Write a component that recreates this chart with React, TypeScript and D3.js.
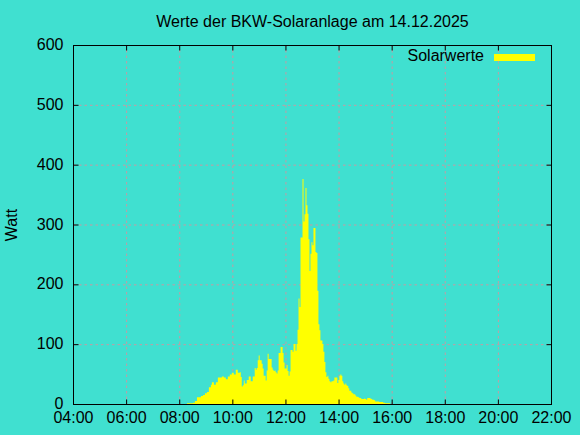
import React from 'react';
import * as d3 from 'd3';

const titleText = 'Werte der BKW-Solaranlage am 14.12.2025';
const yAxisLabel = 'Watt';
const legendLabel = 'Solarwerte';
const xTickHours = [4, 6, 8, 10, 12, 14, 16, 18, 20, 22];
const yTicks = [0, 100, 200, 300, 400, 500, 600];
const startTime = '08:16:25';
const stepSeconds = 135;
const solarValues = [
  2, 2, 2, 2, 2, 2, 3, 3, 6, 6, 12, 12, 12, 12, 14, 14, 16, 16, 19, 19,
  21, 21, 29, 29, 33, 37, 37, 33, 33, 37, 37, 45, 45, 45, 45, 47, 47, 45, 45, 42,
  42, 47, 47, 50, 50, 53, 53, 50, 50, 58, 58, 53, 53, 54, 46, 30, 32, 40, 35, 35,
  41, 41, 47, 47, 39, 39, 47, 47, 61, 58, 61, 74, 82, 74, 74, 68, 60, 48, 48, 40,
  57, 85, 76, 76, 76, 62, 58, 56, 57, 54, 52, 57, 86, 86, 96, 96, 86, 70, 60, 60,
  66, 56, 48, 55, 91, 91, 88, 101, 101, 90, 101, 125, 177, 163, 279, 279, 377, 306, 318, 362,
  333, 319, 276, 223, 252, 271, 266, 295, 295, 255, 253, 190, 134, 124, 107, 107, 101, 88, 71, 54,
  46, 48, 43, 39, 37, 39, 39, 40, 45, 45, 45, 36, 41, 48, 50, 48, 39, 35, 33, 35,
  32, 31, 27, 23, 23, 20, 19, 17, 17, 15, 13, 13, 12, 11, 11, 9, 9, 9, 10, 9,
  8, 11, 11, 11, 10, 9, 8, 8, 7, 5, 5, 5, 5, 4, 4, 4, 4, 3, 3, 2,
  2, 2, 2, 2,
];

const W = 580;
const H = 435;
const FONT = '"Liberation Sans", Arial, sans-serif';
const BG = '#40e0d0';
const GRID = '#c39ca3';

function toHours(s: string): number {
  const [h, m, sec] = s.split(':').map(Number);
  return h + m / 60 + (sec || 0) / 3600;
}

export default function App() {
  const x = d3.scaleLinear().domain([4, 22]).range([73.5, 551.5]);
  const y = d3.scaleLinear().domain([0, 600]).range([404.5, 45.5]);
  const t0 = toHours(startTime);
  const pts = solarValues.map((v, i) => ({ t: t0 + (i * stepSeconds) / 3600, v }));
  pts.push({ t: t0 + (solarValues.length * stepSeconds) / 3600, v: solarValues[solarValues.length - 1] });
  const area = d3
    .area<{ t: number; v: number }>()
    .x((d) => x(d.t))
    .y0(y(0))
    .y1((d) => y(d.v))
    .curve(d3.curveStepAfter);

  const [x0, x1] = x.range();
  const [yb, yt] = y.range();
  const tick = 5;
  const fmt = (h: number) => `${String(h).padStart(2, '0')}:00`;

  return (
    <svg width={W} height={H} style={{ position: 'absolute', left: 0, top: 0, display: 'block' }} fontFamily={FONT}>
      <rect x={0} y={0} width={W} height={H} fill={BG} />
      {/* grid */}
      {xTickHours.slice(1, -1).map((h) => (
        <line key={'gx' + h} x1={x(h)} x2={x(h)} y1={yb} y2={yt} stroke={GRID} strokeWidth={1} strokeDasharray="2.5,3" />
      ))}
      {yTicks.slice(1, -1).map((v) => (
        <line key={'gy' + v} x1={x0} x2={x1} y1={y(v)} y2={y(v)} stroke={GRID} strokeWidth={1} strokeDasharray="2.5,3" />
      ))}
      {/* data */}
      <path d={area(pts) || ''} fill="#ffff00" stroke="none" />
      {/* border */}
      <rect x={x0} y={yt} width={x1 - x0} height={yb - yt} fill="none" stroke="#000" strokeWidth={1} />
      {/* ticks */}
      {xTickHours.map((h) => (
        <g key={'tx' + h}>
          <line x1={x(h)} x2={x(h)} y1={yb} y2={yb - tick} stroke="#000" />
          <line x1={x(h)} x2={x(h)} y1={yt} y2={yt + tick} stroke="#000" />
          <text x={x(h)} y={423} fontSize={16} textAnchor="middle" fill="#000">
            {fmt(h)}
          </text>
        </g>
      ))}
      {yTicks.map((v) => (
        <g key={'ty' + v}>
          <line x1={x0} x2={x0 + tick} y1={y(v)} y2={y(v)} stroke="#000" />
          <line x1={x1} x2={x1 - tick} y1={y(v)} y2={y(v)} stroke="#000" />
          <text x={63.5} y={y(v) + 4.5} fontSize={16} textAnchor="end" fill="#000">
            {v}
          </text>
        </g>
      ))}
      {/* title */}
      <text x={(x0 + x1) / 2} y={27} fontSize={16} textAnchor="middle" fill="#000">
        {titleText}
      </text>
      {/* y label */}
      <text transform={`translate(17, ${(yb + yt) / 2}) rotate(-90)`} fontSize={16} textAnchor="middle" fill="#000">
        {yAxisLabel}
      </text>
      {/* legend */}
      <text x={484} y={60.5} fontSize={16} textAnchor="end" fill="#000">
        {legendLabel}
      </text>
      <rect x={494} y={54} width={41} height={7} fill="#ffff00" />
    </svg>
  );
}
